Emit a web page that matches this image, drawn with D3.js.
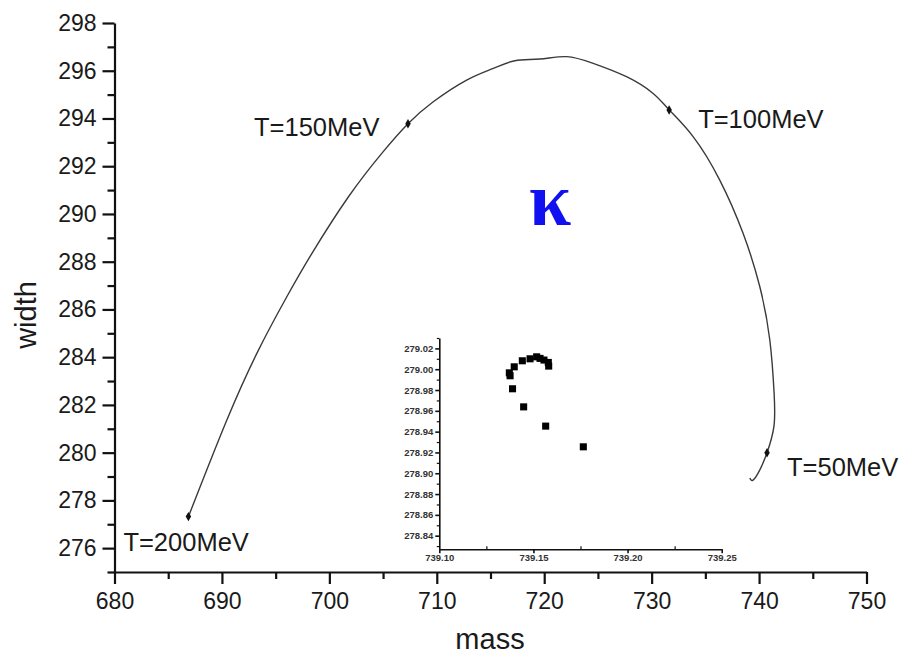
<!DOCTYPE html>
<html>
<head>
<meta charset="utf-8">
<script src="https://cdn.jsdelivr.net/npm/d3@7"></script>
<style>
  body { margin: 0; background: #fff; }
  svg { display: block; font-family: "Liberation Sans", Arial, Helvetica, sans-serif; }
</style>
</head>
<body>
<svg id="chart" width="908" height="656"></svg>
<script>
// Trajectory of the kappa pole (mass, width in MeV) as temperature varies
const curveMass  = [686.88, 687.97, 690.46, 693.25, 696.04, 698.38, 701.78, 704.88, 707.32,
                    709.67, 712.78, 715.26, 717.27, 719.60, 722.08, 724.56, 727.66, 730.14, 731.63,
                    733.86, 736.34, 738.51, 740.07, 741.00, 741.40, 741.38, 740.74, 740.06, 739.44, 739.14];
const curveWidth = [277.32, 278.57, 281.37, 284.16, 286.53, 288.35, 290.72, 292.54, 293.78,
                    294.70, 295.61, 296.10, 296.42, 296.49, 296.59, 296.31, 295.75, 295.05, 294.36,
                    293.24, 291.42, 289.19, 286.95, 284.72, 282.49, 281.09, 280.00, 279.27, 278.85, 278.94];

// Marked temperatures along the trajectory
const markerLabels = ["T=200MeV", "T=150MeV", "T=100MeV", "T=50MeV"];
const markerMass   = [686.88, 707.32, 731.63, 740.74];
const markerWidth  = [277.32, 293.78, 294.36, 280.00];

// Main axes ticks
const xMajorTicks = [680, 690, 700, 710, 720, 730, 740, 750];
const xMinorTicks = [685, 695, 705, 715, 725, 735, 745];
const yMajorTicks = [276, 278, 280, 282, 284, 286, 288, 290, 292, 294, 296, 298];
const yMinorTicks = [275, 277, 279, 281, 283, 285, 287, 289, 291, 293, 295, 297];

// Low-temperature end of the trajectory, magnified
const insetMass  = [739.1765, 739.1565, 739.1448, 739.1389, 739.1376, 739.1372, 739.1398, 739.1441,
                    739.1482, 739.1517, 739.1535, 739.1556, 739.1579, 739.1581];
const insetWidth = [278.9254, 278.9453, 278.9638, 278.9812, 278.9937, 278.9965, 279.0023, 279.0081,
                    279.0100, 279.0119, 279.0104, 279.0088, 279.0065, 279.0030];
const insetXTicks = [739.10, 739.15, 739.20, 739.25];
const insetXMinor = [739.125, 739.175, 739.225];
const insetYTicks = [278.84, 278.86, 278.88, 278.90, 278.92, 278.94, 278.96, 278.98, 279.00, 279.02];
const insetYMinor = [278.83, 278.85, 278.87, 278.89, 278.91, 278.93, 278.95, 278.97, 278.99, 279.01, 279.03];

const svg = d3.select("#chart");

const x = d3.scaleLinear().domain([680, 750]).range([114.5, 866.5]);
const y = d3.scaleLinear().domain([275, 298]).range([572, 23]);

function styleAxis(g, width) {
  g.select(".domain").attr("stroke", "#111").attr("stroke-width", width);
  g.selectAll(".tick line").attr("stroke", "#111").attr("stroke-width", width);
  g.selectAll(".tick text").style("font-family", "Liberation Sans, Arial, sans-serif");
}

// x axis
const gx = svg.append("g").attr("transform", "translate(0,572)");
gx.call(d3.axisBottom(x).tickValues(xMajorTicks).tickSize(12).tickSizeOuter(0).tickPadding(9).tickFormat(d3.format("d")));
styleAxis(gx, 2.2);
gx.selectAll(".tick text").attr("font-size", 23).attr("fill", "#1a1a1a");
const gxm = svg.append("g").attr("transform", "translate(0,572)");
gxm.call(d3.axisBottom(x).tickValues(xMinorTicks).tickSize(7).tickSizeOuter(0).tickFormat(""));
gxm.select(".domain").remove();
styleAxis(gxm, 2.2);

// y axis
const gy = svg.append("g").attr("transform", "translate(114.5,0)");
gy.call(d3.axisLeft(y).tickValues(yMajorTicks).tickSize(12).tickSizeOuter(0).tickPadding(6).tickFormat(d3.format("d")));
styleAxis(gy, 2.2);
gy.selectAll(".tick text").attr("font-size", 23).attr("fill", "#1a1a1a");
const gym = svg.append("g").attr("transform", "translate(114.5,0)");
gym.call(d3.axisLeft(y).tickValues(yMinorTicks).tickSize(7).tickSizeOuter(0).tickFormat(""));
gym.select(".domain").remove();
styleAxis(gym, 2.2);

// axis titles
svg.append("text").attr("x", 490).attr("y", 649).attr("text-anchor", "middle")
  .attr("font-size", 29).attr("fill", "#1a1a1a").text("mass");
svg.append("text").attr("transform", "translate(36,315) rotate(-90)").attr("text-anchor", "middle")
  .attr("font-size", 29).attr("fill", "#1a1a1a").text("width");

// trajectory
const pts = curveMass.map((m, i) => [m, curveWidth[i]]);
const line = d3.line().x(d => x(d[0])).y(d => y(d[1])).curve(d3.curveNatural);
svg.append("path").datum(pts).attr("d", line)
  .attr("fill", "none").attr("stroke", "#3a3a3a").attr("stroke-width", 1.4);

// temperature markers
const markers = markerMass.map((m, i) => ({ m, w: markerWidth[i], label: markerLabels[i] }));
svg.selectAll("path.marker").data(markers).join("path").attr("class", "marker")
  .attr("transform", d => `translate(${x(d.m)},${y(d.w)})`)
  .attr("d", d3.symbol(d3.symbolDiamond, 26)).attr("fill", "#111");

const labelOffset = {
  "T=200MeV": [-65, 34],
  "T=150MeV": [-154, 12],
  "T=100MeV": [29, 18],
  "T=50MeV": [20, 23]
};
svg.selectAll("text.tlabel").data(markers).join("text").attr("class", "tlabel")
  .attr("x", d => x(d.m) + labelOffset[d.label][0])
  .attr("y", d => y(d.w) + labelOffset[d.label][1])
  .attr("font-size", 25.5).attr("fill", "#1a1a1a").text(d => d.label);

// kappa symbol
svg.append("text").attr("x", 550).attr("y", 225).attr("text-anchor", "middle")
  .style("font-family", "'Liberation Serif', 'Times New Roman', serif").attr("font-weight", "bold")
  .attr("font-size", 76).attr("fill", "#1010f0").text("κ");

// inset
const ix = d3.scaleLinear().domain([739.10, 739.25]).range([439.3, 721.7]);
const iy = d3.scaleLinear().domain([278.827, 279.03]).range([549.2, 338]);

const inset = svg.append("g");
const igx = inset.append("g").attr("transform", "translate(0,549.2)");
igx.call(d3.axisBottom(ix).tickValues(insetXTicks).tickSize(4).tickSizeOuter(0).tickPadding(1).tickFormat(d3.format(".2f")));
styleAxis(igx, 1.6);
igx.selectAll(".tick text").attr("font-size", 9.5).attr("font-weight", "bold").attr("fill", "#333");
const igxm = inset.append("g").attr("transform", "translate(0,549.2)");
igxm.call(d3.axisTop(ix).tickValues(insetXMinor).tickSize(3).tickFormat(""));
igxm.select(".domain").remove();
styleAxis(igxm, 1.2);

const igy = inset.append("g").attr("transform", "translate(439.3,0)");
igy.call(d3.axisLeft(iy).tickValues(insetYTicks).tickSize(4).tickSizeOuter(0).tickPadding(2).tickFormat(d3.format(".2f")));
styleAxis(igy, 1.6);
igy.selectAll(".tick text").attr("font-size", 9.5).attr("font-weight", "bold").attr("fill", "#333");
const igym = inset.append("g").attr("transform", "translate(439.3,0)");
igym.call(d3.axisLeft(iy).tickValues(insetYMinor).tickSize(2.5).tickFormat(""));
igym.select(".domain").remove();
styleAxis(igym, 1.2);

inset.selectAll("path.sq").data(insetMass.map((m, i) => [m, insetWidth[i]])).join("path").attr("class", "sq")
  .attr("transform", d => `translate(${ix(d[0])},${iy(d[1])})`)
  .attr("d", d3.symbol(d3.symbolSquare, 50)).attr("fill", "#000");
</script>
</body>
</html>
